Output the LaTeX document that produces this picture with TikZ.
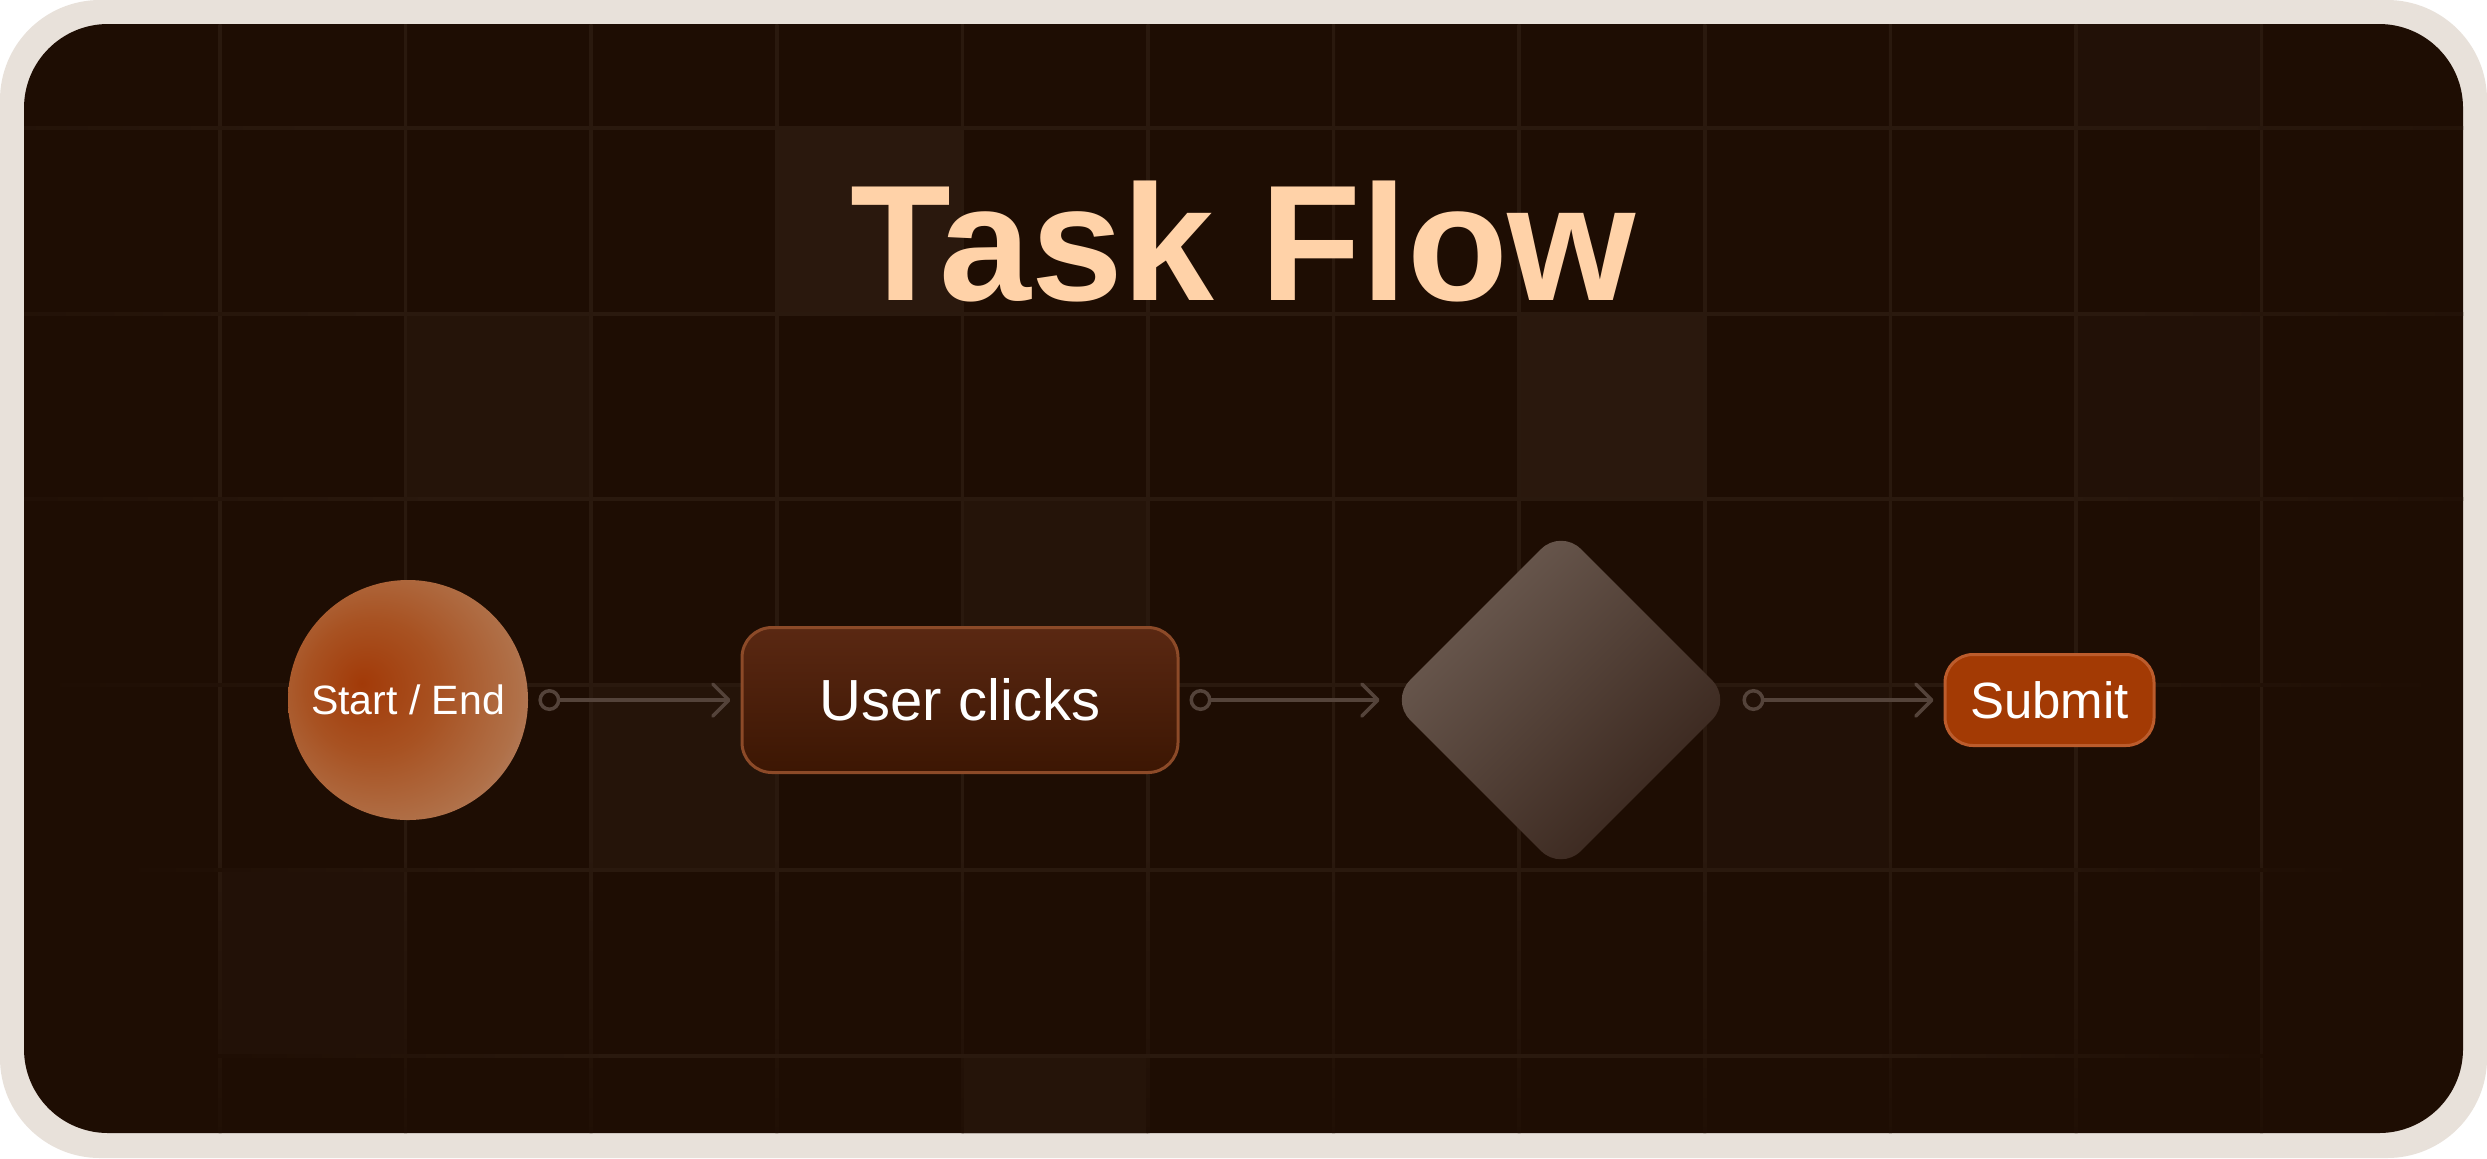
\documentclass[tikz,border=0pt]{standalone}
\usepackage{fontspec}
\setmainfont{Liberation Sans}
\usetikzlibrary{arrows.meta,shapes.geometric}

\definecolor{framec}{HTML}{E8E1DA}
\definecolor{bgc}{HTML}{1E0D03}
\definecolor{gridc}{HTML}{2A190E}
\definecolor{hlA}{HTML}{2A180D}
\definecolor{hlB}{HTML}{251409}
\definecolor{hlC}{HTML}{221107}
\definecolor{titlec}{HTML}{FFD2A8}
\definecolor{arrowc}{HTML}{54433A}
\definecolor{sA}{HTML}{A23A08}
\definecolor{sB}{HTML}{A85222}
\definecolor{sC}{HTML}{B07048}
\definecolor{sD}{HTML}{BA9282}
\definecolor{boxtop}{HTML}{5A2812}
\definecolor{boxfill}{HTML}{3C1603}
\definecolor{boxborder}{HTML}{8C4A28}
\definecolor{dtop}{HTML}{6E5D53}
\definecolor{dmid}{HTML}{54433A}
\definecolor{dbot}{HTML}{36231A}
\definecolor{subfill}{HTML}{A33A04}
\definecolor{subborder}{HTML}{BC5C2C}

\pgfdeclareradialshading{startshade}{\pgfpoint{-9.7bp}{3.5bp}}{%
  color(0bp)=(sA); color(14bp)=(sB); color(28bp)=(sC); color(40bp)=(sD); color(60bp)=(sD)}
\pgfdeclarehorizontalshading{hfade}{100bp}{%
  color(0bp)=(bgc); color(25bp)=(bgc); color(35bp)=(gridc); color(65bp)=(gridc); color(75bp)=(bgc); color(100bp)=(bgc)}
\pgfdeclareverticalshading{vfade}{100bp}{%
  color(0bp)=(bgc); color(25bp)=(bgc); color(40bp)=(gridc); color(100bp)=(gridc)}

\tikzset{
  titletext/.style={font=\fontsize{82.5pt}{82.5pt}\selectfont\bfseries, text=titlec, inner sep=0pt},
  startnode/.style={circle, minimum size=120pt, inner sep=0pt, shading=startshade,
    text=white, font=\fontsize{20.5pt}{20.5pt}\selectfont},
  boxnode/.style={rectangle, rounded corners=15pt, minimum width=218pt, minimum height=72.5pt,
    inner sep=0pt, top color=boxtop, middle color=boxfill, bottom color=boxfill,
    draw=boxborder, line width=1.5pt, text=white, font=\fontsize{29pt}{29pt}\selectfont},
  decnode/.style={diamond, aspect=1, minimum width=171pt, minimum height=171pt, inner sep=0pt,
    rounded corners=14pt, top color=dtop, middle color=dmid, bottom color=dbot, shading angle=45},
  subnode/.style={rectangle, rounded corners=14pt, minimum width=104.5pt, minimum height=45.5pt,
    inner sep=0pt, fill=subfill, draw=subborder, line width=1.5pt, text=white,
    font=\fontsize{25.5pt}{25.5pt}\selectfont},
  conn/.style={draw=arrowc, line width=1.75pt, shorten <=5pt, shorten >=5pt,
    arrows={Circle[open,length=11pt,width=11pt]-Straight Barb[length=8pt,width=16pt,round]}}
}

\begin{document}
\begin{tikzpicture}[x=0.5pt,y=-0.5pt]
\useasboundingbox (0,0) rectangle (2487,1158);
\fill[white] (0,0) rectangle (2487,1158);
\fill[framec, rounded corners=50pt] (0,0) rectangle (2487,1158);
\fill[bgc, rounded corners=42pt] (24,24) rectangle (2463,1133);

\begin{scope}
\clip[rounded corners=42pt] (24,24) rectangle (2463,1133);
\foreach \k/\j/\c in {3/0/hlA, 1/1/hlB, 7/1/hlA, 10/1/hlC, 4/2/hlB, 2/3/hlB, 8/3/hlC, 0/4/hlC, 4/5/hlB, 10/-1/hlC}
  \fill[\c] ({220+185.6*\k},{128+185.6*\j}) rectangle ++(185.6,185.6);
\foreach \k in {0,...,11}
  \shade[shading=vfade] ({220+185.6*\k-1.5},24) rectangle ({220+185.6*\k+1.5},1200);
\foreach \j/\xa/\xb in {0/-300/2800, 1/-200/2700, 2/-100/2600, 3/40/2440, 4/120/2360, 5/200/2280}
  \shade[shading=hfade] (\xa,{128+185.6*\j-1.5}) rectangle (\xb,{128+185.6*\j+1.5});
\end{scope}

\node[titletext, anchor=base] (title) at (1243.5,300) {Task Flow};

\node[startnode] (start) at (408,700) {Start / End};
\node[boxnode] (click) at (960,700) {User clicks};
\node[decnode] (dec) at (1561,700) {};
\node[subnode] (sub) at (2049.5,700) {Submit};

\draw[conn] (start) -- (click);
\draw[conn] (click) -- (dec);
\draw[conn] (dec) -- (sub);
\end{tikzpicture}
\end{document}
